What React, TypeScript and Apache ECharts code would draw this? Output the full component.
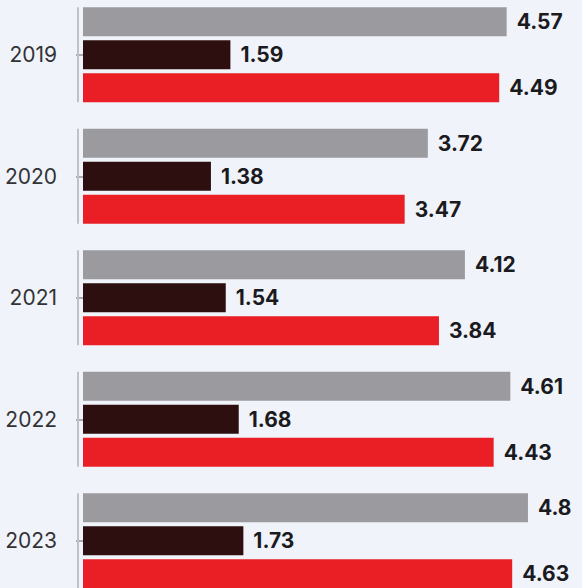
import React, { useEffect, useRef } from "react";
import * as echarts from "echarts";

const categories = ["2019", "2020", "2021", "2022", "2023"];
const grayValues = [4.57, 3.72, 4.12, 4.61, 4.8];
const darkValues = [1.59, 1.38, 1.54, 1.68, 1.73];
const redValues = [4.49, 3.47, 3.84, 4.43, 4.63];

export default function App() {
  const ref = useRef<HTMLDivElement>(null);
  useEffect(() => {
    if (!ref.current) return;
    const chart = echarts.init(ref.current, null, { renderer: "svg" });
    const label = {
      show: true,
      position: "right" as const,
      distance: 10,
      fontFamily: "Inter",
      fontWeight: 700,
      fontSize: 21,
      color: "#1b1b1f",
      formatter: (p: any) => String(p.value),
    };
    const bar = (name: string, data: number[], color: string) => ({
      name,
      type: "bar",
      data,
      barWidth: 29,
      barGap: "14%",
      itemStyle: { color },
      label,
    });
    chart.setOption({
      animation: false,
      backgroundColor: "#f0f4fa",
      grid: { left: 83, top: 0, width: 463.5, height: 607.5 },
      xAxis: {
        type: "value",
        min: 0,
        max: 5,
        show: false,
      },
      yAxis: {
        type: "category",
        data: categories,
        inverse: true,
        offset: 5,
        axisLine: { show: false },
        axisTick: {
          show: true,
          alignWithLabel: true,
          length: 7,
          lineStyle: { color: "#8f969e", width: 1.5 },
        },
        axisLabel: {
          margin: 21,
          fontFamily: "Inter",
          fontSize: 21,
          color: "#333336",
        },
      },
      series: [
        bar("gray", grayValues, "#9b9a9f"),
        bar("dark", darkValues, "#2e0f0f"),
        bar("red", redValues, "#ea1f25"),
        {
          type: "custom",
          silent: true,
          z: 1,
          data: categories.map((c) => [0, c]),
          encode: { x: 0, y: 1 },
          renderItem: (params: any, api: any) => {
            const p = api.coord([0, api.value(1)]);
            const h = api.size([0, 1])[1];
            return {
              type: "line",
              shape: {
                x1: p[0] - 5,
                y1: p[1] - h * 0.39,
                x2: p[0] - 5,
                y2: p[1] + h * 0.39,
              },
              style: { stroke: "#bcc3cb", lineWidth: 2 },
            };
          },
        },
      ],
    });
    return () => chart.dispose();
  }, []);
  return (
    <div
      style={{
        position: "fixed",
        left: 0,
        top: 0,
        width: 582,
        height: 588,
        overflow: "hidden",
        background: "#f0f4fa",
      }}
    >
      <div
        ref={ref}
        style={{ position: "absolute", left: 0, top: -6, width: 582, height: 608 }}
      />
    </div>
  );
}
